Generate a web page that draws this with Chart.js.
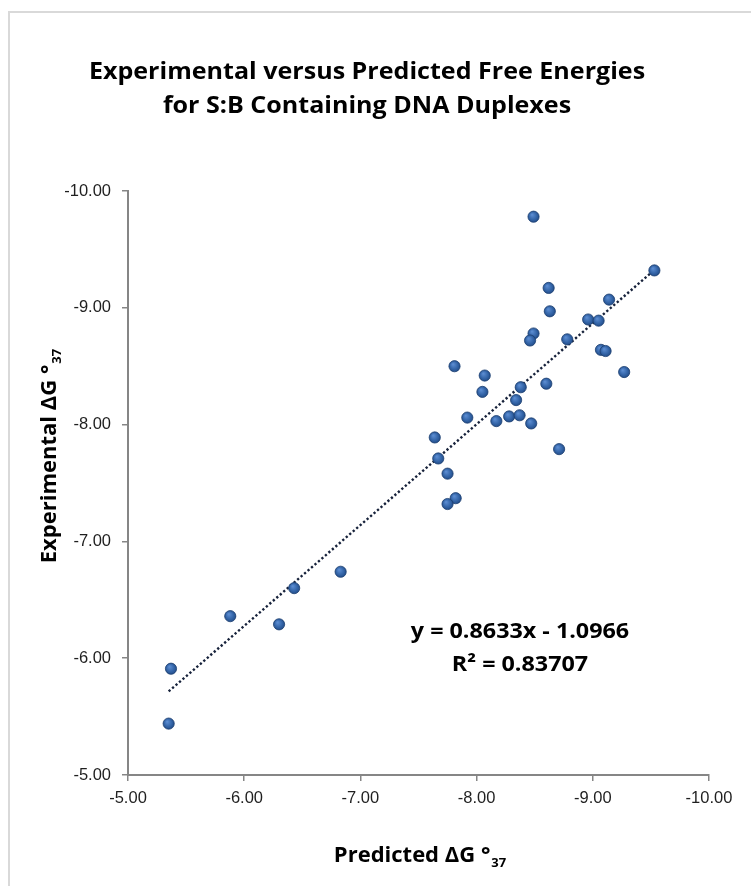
<!DOCTYPE html>
<html>
<head>
<meta charset="utf-8">
<title>Experimental versus Predicted Free Energies</title>
<script src="https://cdn.jsdelivr.net/npm/chart.js@4.4.1/dist/chart.umd.min.js"></script>
<style>
  html, body { margin: 0; padding: 0; background: #fff; }
  #chart { display: block; }
</style>
</head>
<body>
<canvas id="chart" width="751" height="886"></canvas>
<script>
// Data (kcal/mol)
const predicted = [
  -5.35, -5.37, -5.88, -6.30, -6.43, -6.83,
  -7.64, -7.67, -7.75, -7.82, -7.75, -7.92,
  -8.05, -8.17, -8.28, -8.37, -8.47, -8.34,
  -8.38, -8.60, -8.71, -8.49, -9.53, -8.62,
  -8.63, -9.14, -8.96, -9.05, -8.49, -8.46,
  -8.78, -9.07, -9.11, -7.81, -8.07, -9.27
];
const experimental = [
  -5.44, -5.91, -6.36, -6.29, -6.60, -6.74,
  -7.89, -7.71, -7.58, -7.37, -7.32, -8.06,
  -8.28, -8.03, -8.07, -8.08, -8.01, -8.21,
  -8.32, -8.35, -7.79, -9.78, -9.32, -9.17,
  -8.97, -9.07, -8.90, -8.89, -8.78, -8.72,
  -8.73, -8.64, -8.63, -8.50, -8.42, -8.45
];
const xTicks = [-5, -6, -7, -8, -9, -10];
const yTicks = [-5, -6, -7, -8, -9, -10];

// linear trendline as printed on the chart
const trendSlope = 0.8633;
const trendIntercept = -1.0966;
const trendR2 = 0.83707;

const titleLines = [
  'Experimental versus Predicted Free Energies',
  'for S:B Containing DNA Duplexes'
];

const points = predicted.map((x, i) => ({ x: x, y: experimental[i] }));
const xLo = Math.max(...predicted);
const xHi = Math.min(...predicted);
const trendPoints = [xLo, xHi].map(x => ({ x: x, y: trendSlope * x + trendIntercept }));

const axisGray = '#868686';
const tickFont = { family: '"Liberation Sans", Arial, sans-serif', size: 16.5 };
const boldFace = '"Open Sans", "DejaVu Sans", sans-serif';

// centred text, squeezed/stretched horizontally by sx (the original font is a wide Calibri)
function wideText(ctx, text, cx, baseline, size, sx) {
  ctx.save();
  ctx.font = 'bold ' + size + 'px ' + boldFace;
  ctx.textAlign = 'center';
  ctx.textBaseline = 'alphabetic';
  ctx.translate(cx, baseline);
  ctx.scale(sx, 1);
  ctx.fillText(text, 0, 0);
  ctx.restore();
}

// draws a label like "Predicted ΔG °" followed by a subscript
function subLabel(ctx, main, sub, cx, baseline) {
  ctx.font = 'bold 22px ' + boldFace;
  const w1 = ctx.measureText(main).width;
  ctx.font = 'bold 13px ' + boldFace;
  const w2 = ctx.measureText(sub).width;
  const start = cx - (w1 + w2 + 1) / 2;
  ctx.textAlign = 'left';
  ctx.textBaseline = 'alphabetic';
  ctx.font = 'bold 22px ' + boldFace;
  ctx.fillText(main, start, baseline);
  ctx.font = 'bold 13px ' + boldFace;
  ctx.fillText(sub, start + w1 + 1, baseline + 5);
}

// glossy marker fill, like the Excel preset
function markerFill(context) {
  const chart = context.chart;
  if (!context.parsed || !chart.scales.x) return '#2E62A2';
  const px = chart.scales.x.getPixelForValue(context.parsed.x);
  const py = chart.scales.y.getPixelForValue(context.parsed.y);
  if (!isFinite(px) || !isFinite(py)) return '#2E62A2';
  const g = chart.ctx.createRadialGradient(px - 1.5, py - 2, 0.5, px, py, 6.5);
  g.addColorStop(0, '#5A8BD0');
  g.addColorStop(0.55, '#3465A8');
  g.addColorStop(1, '#1E4680');
  return g;
}

const decorations = {
  id: 'decorations',
  beforeDraw(chart) {
    const ctx = chart.ctx;
    ctx.save();
    ctx.fillStyle = '#fff';
    ctx.fillRect(0, 0, chart.width, chart.height);
    // outer chart frame (only left and top edges fall inside the picture)
    ctx.strokeStyle = '#d9d9d9';
    ctx.lineWidth = 2;
    ctx.beginPath();
    ctx.moveTo(9, chart.height + 5);
    ctx.lineTo(9, 12);
    ctx.lineTo(chart.width + 5, 12);
    ctx.stroke();
    ctx.restore();
  },
  afterDraw(chart) {
    const ctx = chart.ctx;
    const area = chart.chartArea;
    ctx.save();
    ctx.fillStyle = '#000';

    // title
    wideText(ctx, titleLines[0], 367, 79, 23, 1.09);
    wideText(ctx, titleLines[1], 367, 113, 23, 1.09);

    // axis titles
    subLabel(ctx, 'Predicted \u0394G \u00B0', '37', 420, 862);
    ctx.save();
    ctx.translate(56, 456);
    ctx.rotate(-Math.PI / 2);
    subLabel(ctx, 'Experimental \u0394G \u00B0', '37', 0, 0);
    ctx.restore();

    // trendline equation
    const sign = trendIntercept < 0 ? ' - ' : ' + ';
    const ex = area.left + 392;
    wideText(ctx, 'y = ' + trendSlope.toFixed(4) + 'x' + sign + Math.abs(trendIntercept).toFixed(4), ex, 638, 21, 1.11);
    wideText(ctx, 'R\u00B2 = ' + trendR2.toFixed(5), ex, 671, 21, 1.11);
    ctx.restore();
  }
};

function axisOptions(ticksList, fitFn, pad) {
  return {
    type: 'linear',
    min: -10,
    max: -5,
    reverse: true,
    afterBuildTicks: scale => { scale.ticks = ticksList.map(v => ({ value: v })); },
    afterFit: fitFn,
    ticks: {
      font: tickFont,
      color: '#1f1f1f',
      padding: pad,
      callback: v => v.toFixed(2)
    },
    grid: {
      drawOnChartArea: false,
      drawTicks: true,
      tickLength: 6,
      tickColor: axisGray,
      lineWidth: 1.5
    },
    border: { color: axisGray, width: 2 }
  };
}

new Chart(document.getElementById('chart'), {
  type: 'scatter',
  data: {
    datasets: [
      {
        label: 'Experimental',
        data: points,
        order: 0,
        pointRadius: 5.6,
        pointBackgroundColor: markerFill,
        pointBorderColor: '#1A3E70',
        pointBorderWidth: 0.8
      },
      {
        label: 'Trend',
        type: 'line',
        data: trendPoints,
        order: 1,
        showLine: true,
        pointRadius: 0,
        borderColor: '#17223B',
        borderWidth: 2.4,
        borderDash: [2.3, 2.3],
        fill: false
      }
    ]
  },
  options: {
    responsive: false,
    devicePixelRatio: 1,
    animation: false,
    layout: { padding: { left: 0, right: 42, top: 191, bottom: 71 } },
    plugins: {
      legend: { display: false },
      tooltip: { enabled: false },
      title: { display: false }
    },
    scales: {
      x: axisOptions(xTicks, s => { s.height = 40; }, 8),
      y: axisOptions(yTicks, s => { s.width = 128; }, 11)
    }
  },
  plugins: [decorations]
});
</script>
</body>
</html>
